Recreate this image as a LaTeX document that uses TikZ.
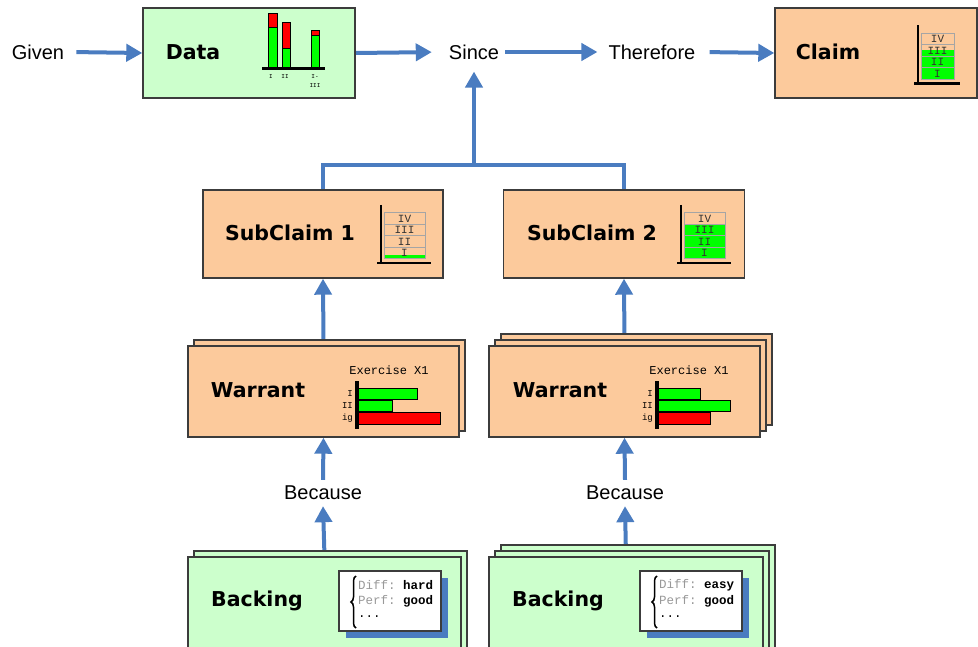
\documentclass[tikz,border=0pt]{standalone}
\usepackage{fontspec}
\setmainfont{Liberation Sans}
\setmonofont{Liberation Mono}
\newfontfamily\headf{DejaVu Sans}
\usetikzlibrary{arrows.meta,backgrounds,decorations.pathreplacing}
\definecolor{peach}{RGB}{252,202,156}
\definecolor{mint}{RGB}{204,255,204}
\definecolor{abl}{RGB}{74,124,192}
\definecolor{edge}{RGB}{60,60,60}
\definecolor{bargreen}{RGB}{0,255,0}
\definecolor{barred}{RGB}{255,0,0}
\definecolor{stk}{RGB}{165,165,165}
\tikzset{
 box/.style={draw=edge,line width=1.4pt,inner sep=0pt,anchor=center},
 obox/.style={box,fill=peach},
 gbox/.style={box,fill=mint},
 head/.style={font=\headf\bfseries\fontsize{20.5}{24}\selectfont,inner sep=0pt},
 word/.style={font=\fontsize{20}{24}\selectfont,inner sep=6pt},
 conn/.style={abl,line width=4pt},
 arr/.style={conn,-{Triangle[length=16pt,width=17pt]}},
 tiny/.style={font=\ttfamily\fontsize{9}{9}\selectfont,inner sep=0pt},
 rowlab/.style={font=\ttfamily\fontsize{11}{11}\selectfont,inner sep=0pt,text=black!80},
}
% stacked level chart: ox, oy (axis corner), width, y of green top
\newcommand\stackchart[4]{%
 \fill[bargreen] (#1+3,#2-4) rectangle (#1+3+#3,#4);
 \foreach \k/\lab in {0/I,1/II,2/III,3/IV}{%
  \draw[stk,line width=1pt] (#1+3,#2-4-11.5*\k) rectangle (#1+3+#3,#2-15.5-11.5*\k);
  \node[rowlab] at (#1+3+#3/2,#2-9.75-11.5*\k) {\lab};}
 \draw[line width=2.5pt] (#1,#2-58) -- (#1,#2+1);
 \draw[line width=2.5pt] (#1-4,#2) -- (#1+#3+9,#2);
}
% horizontal bar chart: axis x, axis top y, three bar lengths
\newcommand\barchart[5]{%
 \node[font=\ttfamily\fontsize{12}{12}\selectfont,inner sep=0pt] at (#1+32,#2-11) {Exercise X1};
 \draw[line width=1pt,fill=bargreen] (#1,#2+7) rectangle (#1+#3,#2+18);
 \draw[line width=1pt,fill=bargreen] (#1,#2+19) rectangle (#1+#4,#2+30);
 \draw[line width=1pt,fill=barred] (#1,#2+31) rectangle (#1+#5,#2+43);
 \draw[line width=3.5pt] (#1,#2) -- (#1,#2+48);
 \node[tiny,anchor=east] at (#1-4,#2+12.5) {I};
 \node[tiny,anchor=east] at (#1-4,#2+24.5) {II};
 \node[tiny,anchor=east] at (#1-4,#2+37) {ig};
}
% note card with shadow: x, y (top left), value
\newcommand\docbox[3]{%
 \fill[abl] (#1+7,#2+7) rectangle (#1+109,#2+67);
 \draw[fill=white,draw=edge,line width=1.2pt] (#1,#2) rectangle (#1+102,#2+60);
 \draw[decorate,decoration={brace,amplitude=5pt},line width=1.5pt] (#1+17,#2+57) -- (#1+17,#2+5);
 \node[font=\ttfamily\fontsize{12.5}{12.5}\selectfont,anchor=west,inner sep=0pt] at (#1+19,#2+14) {\textcolor{black!40}{Diff:} \textbf{#3}};
 \node[font=\ttfamily\fontsize{12.5}{12.5}\selectfont,anchor=west,inner sep=0pt] at (#1+19,#2+30) {\textcolor{black!40}{Perf:} \textbf{good}};
 \node[font=\ttfamily\fontsize{12.5}{12.5}\selectfont,anchor=west,inner sep=0pt] at (#1+19,#2+46) {...};
}
\begin{document}
\begin{tikzpicture}[x=1pt,y=-1pt]
\useasboundingbox (0,0) rectangle (978,647);
\clip (0,0) rectangle (978,647);

% ---- top row
\node[word] (given) at (38,52) {Given};
\node[gbox,minimum width=212pt,minimum height=90pt] (data) at (249,53) {};
\node[head] at (193,52) {Data};
\node[word] (since) at (474,52) {Since};
\node[word] (therefore) at (652,52) {Therefore};
\node[obox,minimum width=202pt,minimum height=90pt] (claim) at (876,53) {};
\node[head] at (828,52) {Claim};

% Data chart
\draw[line width=0.9pt,fill=bargreen] (268,27) rectangle (277,68);
\draw[line width=0.9pt,fill=barred] (268,13) rectangle (277,27);
\draw[line width=0.9pt,fill=barred] (282,22) rectangle (290,48);
\draw[line width=0.9pt,fill=bargreen] (282,48) rectangle (290,68);
\draw[line width=0.9pt,fill=barred] (311,30) rectangle (319,35);
\draw[line width=0.9pt,fill=bargreen] (311,35) rectangle (319,68);
\draw[line width=3pt] (262,68.5) -- (325,68.5);
\node[font=\ttfamily\fontsize{6}{6}\selectfont,inner sep=0pt] at (271,77) {I};
\node[font=\ttfamily\fontsize{6}{6}\selectfont,inner sep=0pt] at (285,77) {II};
\node[font=\ttfamily\fontsize{6}{6}\selectfont,inner sep=0pt] at (315,77) {I-};
\node[font=\ttfamily\fontsize{6}{6}\selectfont,inner sep=0pt] at (315,86) {III};

% Claim chart
\stackchart{918}{83.5}{33}{50}

% ---- subclaims
\node[obox,minimum width=240pt,minimum height=88pt] (s1) at (323,234) {};
\node[head] at (290,233) {SubClaim 1};
\stackchart{381}{263}{41}{255}
\node[obox,minimum width=241pt,minimum height=88pt] (s2) at (624,234) {};
\node[head] at (592,233) {SubClaim 2};
\stackchart{681}{263}{41}{224.5}

% ---- warrants
\draw[draw=edge,line width=1.4pt,fill=peach] (194,340) rectangle (465,431);
\node[obox,minimum width=271pt,minimum height=91pt] (w1) at (323.5,391.5) {};
\node[head] at (258,390) {Warrant};
\barchart{357}{381}{60}{35}{83}

\draw[draw=edge,line width=1.4pt,fill=peach] (501,334) rectangle (772,425);
\draw[draw=edge,line width=1.4pt,fill=peach] (495,340) rectangle (766,431);
\node[obox,minimum width=271pt,minimum height=91pt] (w2) at (624.5,391.5) {};
\node[head] at (560,390) {Warrant};
\barchart{657}{381}{43}{73}{53}

% ---- because
\node[word] (bc1) at (323,493) {Because};
\node[word] (bc2) at (625,493) {Because};

% ---- backings
\draw[draw=edge,line width=1.4pt,fill=mint] (194,551) rectangle (467,720);
\node[gbox,minimum width=273pt,minimum height=150pt] (b1) at (324.5,632) {};
\node[head] at (257,601) {Backing};
\docbox{339}{571}{hard}

\draw[draw=edge,line width=1.4pt,fill=mint] (501,545) rectangle (775,720);
\draw[draw=edge,line width=1.4pt,fill=mint] (495,551) rectangle (769,720);
\node[gbox,minimum width=274pt,minimum height=150pt] (b2) at (626,632) {};
\node[head] at (558,601) {Backing};
\docbox{640}{571}{easy}

% ---- connectors
\begin{scope}[on background layer]
\draw[arr,shorten <=6pt] (given.east) -- (data.west);
\draw[arr,shorten >=11pt] (data.east) -- (since.west);
\draw[arr,shorten >=5pt] (since.east) -- (therefore.west);
\draw[arr,shorten <=8pt] (therefore.east) -- (claim.west);
\coordinate (j) at (474,165);
\draw[conn] (s1.north) |- (j) -| (s2.north);
\draw[arr,shorten >=6pt] (j) -- (since.south);
\draw[arr] (w1.north) -- (s1.south);
\draw[arr] (w2.north) -- (s2.south);
\draw[arr] (bc1.north) -- (w1.south);
\draw[arr] (bc2.north) -- (w2.south);
\draw[arr] (b1.north) -- (bc1.south);
\draw[arr] (b2.north) -- (bc2.south);
\end{scope}
\end{tikzpicture}
\end{document}
